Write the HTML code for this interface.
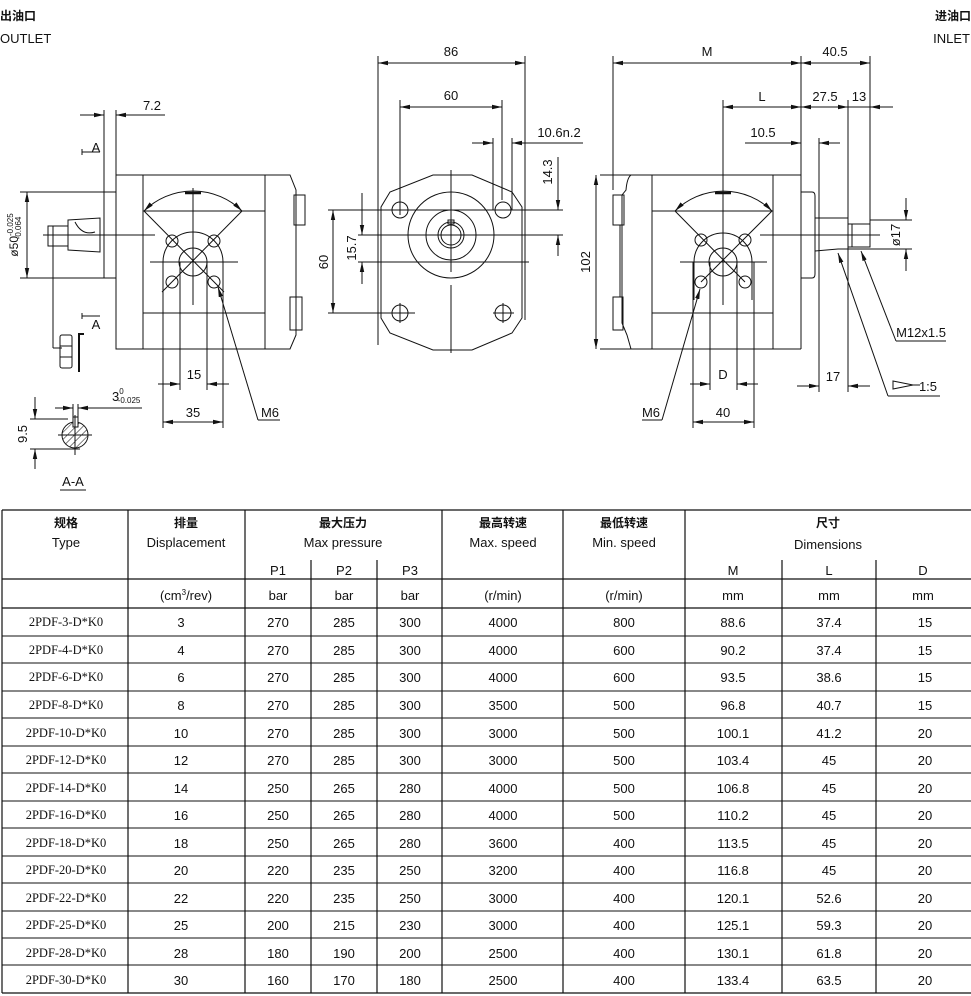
<!DOCTYPE html>
<html><head><meta charset="utf-8"><style>
html,body{margin:0;padding:0;background:#fff;}
svg{display:block;}
text{font-family:"Liberation Sans Narrow","Liberation Sans","Noto Sans CJK SC",sans-serif;fill:#111;}
.c{font-family:"Liberation Sans","Noto Sans CJK SC",sans-serif;font-weight:bold;}
.s{font-family:"Liberation Serif",serif;}
</style></head><body>
<svg width="971" height="996" viewBox="0 0 971 996" xmlns="http://www.w3.org/2000/svg">
<defs>
<marker id="a" viewBox="0 0 10 6" refX="10" refY="3" markerWidth="10" markerHeight="6" markerUnits="userSpaceOnUse" orient="auto-start-reverse"><path d="M0,0.8 L10,3 L0,5.2z" fill="#111"/></marker>
<pattern id="h" width="5" height="5" patternUnits="userSpaceOnUse" patternTransform="rotate(45)"><line x1="0" y1="0" x2="0" y2="5" stroke="#111" stroke-width="1"/></pattern>
</defs>
<g font-size="13">
<text x="0" y="20" class="c" font-size="12">出油口</text>
<text x="0" y="43">OUTLET</text>
<text x="971" y="20" class="c" font-size="12" text-anchor="end">进油口</text>
<text x="970" y="43" text-anchor="end">INLET</text>
</g>

<g stroke="#111" stroke-width="1" fill="none">
<!-- ===== LEFT VIEW ===== -->
<line x1="104" y1="110" x2="104" y2="278"/>
<line x1="116" y1="110" x2="116" y2="175"/>
<line x1="80" y1="115" x2="104" y2="115" marker-end="url(#a)"/>
<line x1="116" y1="115" x2="165" y2="115" marker-start="url(#a)"/>
<rect x="104" y="192" width="12" height="86"/>
<path d="M116,175 H290 L296,190 V335 L290,349 H116 Z"/>
<line x1="143" y1="175" x2="143" y2="349"/>
<line x1="265" y1="175" x2="265" y2="349"/>
<line x1="143" y1="211" x2="265" y2="211"/>
<line x1="143" y1="313" x2="265" y2="313"/>
<rect x="294" y="195" width="11" height="30"/>
<rect x="290" y="297" width="12" height="33"/>
<!-- shaft -->
<path d="M68,220 L100,218 V252 L68,250 Z"/>
<rect x="48" y="226" width="20" height="20"/>
<line x1="53" y1="226" x2="53" y2="246"/>
<path d="M75,222 Q82,236 95,232"/>
<line x1="43" y1="235" x2="155" y2="235"/>
<line x1="53" y1="246" x2="53" y2="348"/>
<line x1="53" y1="348" x2="62" y2="348"/>
<!-- dim phi50 -->
<line x1="20" y1="192" x2="104" y2="192"/>
<line x1="20" y1="278" x2="104" y2="278"/>
<line x1="27" y1="192" x2="27" y2="278" marker-start="url(#a)" marker-end="url(#a)"/>
<!-- A markers -->
<line x1="82" y1="152" x2="100" y2="152"/><line x1="82" y1="149" x2="82" y2="155"/>
<line x1="82" y1="316" x2="100" y2="316"/><line x1="82" y1="313" x2="82" y2="319"/>
<!-- nut -->
<rect x="60" y="335" width="12" height="33" rx="2"/>
<line x1="60" y1="346" x2="72" y2="346"/><line x1="60" y1="357" x2="72" y2="357"/>
<path d="M79,372 V334 H84" stroke-width="2"/>
<!-- port -->
<line x1="193" y1="188" x2="193" y2="305"/>
<line x1="150" y1="262" x2="238" y2="262"/>
<path d="M144,211 A70,70 0 0 1 242,211" marker-start="url(#a)" marker-end="url(#a)"/>
<line x1="144" y1="211" x2="224" y2="292"/>
<line x1="242" y1="211" x2="162" y2="292"/>
<line x1="185" y1="193" x2="201" y2="193" stroke-width="2.5"/>
<circle cx="193" cy="262" r="14"/>
<path d="M163,262 A30,30 0 0 1 223,262 V295 M163,262 V295"/>
<circle cx="172" cy="241" r="6"/><circle cx="214" cy="241" r="6"/>
<circle cx="172" cy="282" r="6"/><circle cx="214" cy="282" r="6"/>
<line x1="163" y1="262" x2="163" y2="428"/>
<line x1="223" y1="262" x2="223" y2="428"/>
<line x1="180" y1="262" x2="180" y2="390"/>
<line x1="207" y1="262" x2="207" y2="390"/>
<line x1="158" y1="384" x2="180" y2="384" marker-end="url(#a)"/>
<line x1="207" y1="384" x2="229" y2="384" marker-start="url(#a)"/>
<line x1="163" y1="422" x2="223" y2="422" marker-start="url(#a)" marker-end="url(#a)"/>
<line x1="258" y1="420" x2="218" y2="287" marker-end="url(#a)"/>
<line x1="258" y1="420" x2="280" y2="420"/>
<!-- A-A section -->
<circle cx="75" cy="435" r="13" fill="url(#h)"/>
<rect x="73" y="417" width="5" height="10" fill="#fff"/>
<line x1="58" y1="435" x2="92" y2="435"/>
<line x1="75" y1="415" x2="75" y2="455"/>
<line x1="55" y1="408" x2="73" y2="408" marker-end="url(#a)"/>
<line x1="78" y1="408" x2="142" y2="408" marker-start="url(#a)"/>
<line x1="73" y1="404" x2="73" y2="418"/><line x1="78" y1="404" x2="78" y2="418"/>
<line x1="30" y1="419" x2="68" y2="419"/>
<line x1="30" y1="449" x2="80" y2="449"/>
<line x1="35" y1="397" x2="35" y2="419" marker-end="url(#a)"/>
<line x1="35" y1="449" x2="35" y2="469" marker-start="url(#a)"/>
<line x1="60" y1="490" x2="86" y2="490"/>

<!-- ===== MIDDLE VIEW ===== -->
<line x1="378" y1="56" x2="378" y2="345"/>
<line x1="525" y1="56" x2="525" y2="320"/>
<line x1="378" y1="63" x2="525" y2="63" marker-start="url(#a)" marker-end="url(#a)"/>
<line x1="400" y1="100" x2="400" y2="215"/>
<line x1="502" y1="100" x2="502" y2="200"/>
<line x1="400" y1="107" x2="502" y2="107" marker-start="url(#a)" marker-end="url(#a)"/>
<line x1="493" y1="138" x2="493" y2="210"/>
<line x1="512" y1="138" x2="512" y2="210"/>
<line x1="472" y1="143" x2="493" y2="143" marker-end="url(#a)"/>
<line x1="512" y1="143" x2="583" y2="143" marker-start="url(#a)"/>
<path d="M433,175 H472 L512,192 L522,207 V318 L512,333 L472,350 H433 L390,333 L381,318 V207 L390,192 Z"/>
<circle cx="400" cy="210" r="8"/><circle cx="503" cy="210" r="8"/>
<circle cx="400" cy="313" r="8"/><circle cx="503" cy="313" r="8"/>
<line x1="390" y1="313" x2="415" y2="313"/><line x1="493" y1="313" x2="514" y2="313"/>
<line x1="400" y1="303" x2="400" y2="323"/><line x1="503" y1="303" x2="503" y2="323"/>
<circle cx="451" cy="235" r="43"/>
<circle cx="451" cy="235" r="25"/>
<circle cx="451" cy="235" r="13"/>
<circle cx="451" cy="235" r="10"/>
<rect x="448" y="220" width="6" height="4"/>
<line x1="451" y1="170" x2="451" y2="272"/>
<line x1="451" y1="285" x2="451" y2="353"/>
<line x1="328" y1="210" x2="563" y2="210"/>
<line x1="358" y1="235" x2="563" y2="235"/>
<line x1="358" y1="262" x2="529" y2="262"/>
<line x1="328" y1="313" x2="390" y2="313"/>
<line x1="333" y1="210" x2="333" y2="313" marker-start="url(#a)" marker-end="url(#a)"/>
<line x1="362" y1="193" x2="362" y2="235" marker-end="url(#a)"/>
<line x1="362" y1="262" x2="362" y2="284" marker-start="url(#a)"/>
<line x1="558" y1="157" x2="558" y2="210" marker-end="url(#a)"/>
<line x1="558" y1="235" x2="558" y2="256" marker-start="url(#a)"/>

<!-- ===== RIGHT VIEW ===== -->
<line x1="613" y1="56" x2="613" y2="190"/>
<line x1="801" y1="56" x2="801" y2="175"/>
<line x1="870" y1="56" x2="870" y2="224"/>
<line x1="613" y1="63" x2="801" y2="63" marker-start="url(#a)" marker-end="url(#a)"/>
<line x1="801" y1="63" x2="870" y2="63" marker-start="url(#a)" marker-end="url(#a)"/>
<line x1="723" y1="100" x2="723" y2="305"/>
<line x1="848" y1="100" x2="848" y2="224"/>
<line x1="723" y1="107" x2="801" y2="107" marker-start="url(#a)" marker-end="url(#a)"/>
<line x1="801" y1="107" x2="848" y2="107" marker-start="url(#a)" marker-end="url(#a)"/>
<line x1="848" y1="107" x2="870" y2="107"/>
<line x1="870" y1="107" x2="893" y2="107" marker-start="url(#a)"/>
<line x1="745" y1="143" x2="801" y2="143" marker-end="url(#a)"/>
<line x1="819" y1="143" x2="840" y2="143" marker-start="url(#a)"/>
<line x1="819" y1="138" x2="819" y2="392"/>
<line x1="848" y1="249" x2="848" y2="392"/>
<path d="M613,175 H631 Q627,178 626,190 L622,195 V323 L627,335 L631,349 H613"/>
<rect x="613" y="195" width="11" height="30"/>
<rect x="613" y="297" width="10" height="33"/>
<line x1="620" y1="225" x2="620" y2="297"/>
<line x1="600" y1="175" x2="801" y2="175"/>
<line x1="600" y1="349" x2="801" y2="349"/>
<line x1="652" y1="175" x2="652" y2="349"/>
<line x1="801" y1="175" x2="801" y2="349"/>
<line x1="773" y1="175" x2="773" y2="349"/>
<line x1="652" y1="211" x2="773" y2="211"/>
<line x1="652" y1="313" x2="773" y2="313"/>
<line x1="596" y1="175" x2="596" y2="349" marker-start="url(#a)" marker-end="url(#a)"/>
<path d="M801,192 H812 Q815,192 815,196 V274 Q815,278 812,278 H801"/>
<path d="M815,218 H848 V249 L838,249 L815,251"/>
<rect x="848" y="224" width="22" height="23"/>
<line x1="852" y1="224" x2="852" y2="247"/>
<line x1="760" y1="235" x2="880" y2="235"/>
<line x1="870" y1="220" x2="912" y2="220"/>
<line x1="848" y1="249" x2="912" y2="249"/>
<line x1="906" y1="198" x2="906" y2="220" marker-end="url(#a)"/>
<line x1="906" y1="249" x2="906" y2="271" marker-start="url(#a)"/>
<!-- port right -->
<line x1="723" y1="186" x2="723" y2="305"/>
<line x1="680" y1="262" x2="767" y2="262"/>
<path d="M675,211 A69,69 0 0 1 772,211" marker-start="url(#a)" marker-end="url(#a)"/>
<line x1="675" y1="211" x2="745" y2="282"/>
<line x1="772" y1="211" x2="701" y2="282"/>
<line x1="715" y1="193" x2="731" y2="193" stroke-width="2.5"/>
<circle cx="723" cy="262" r="14"/>
<path d="M694,262 A29,29 0 0 1 752,262 V300 M694,262 V300"/>
<circle cx="701" cy="240" r="6"/><circle cx="745" cy="240" r="6"/>
<circle cx="701" cy="282" r="6"/><circle cx="745" cy="282" r="6"/>
<line x1="693" y1="262" x2="693" y2="428"/>
<line x1="754" y1="262" x2="754" y2="428"/>
<line x1="710" y1="262" x2="710" y2="390"/>
<line x1="737" y1="262" x2="737" y2="390"/>
<line x1="690" y1="384" x2="710" y2="384" marker-end="url(#a)"/>
<line x1="737" y1="384" x2="758" y2="384" marker-start="url(#a)"/>
<line x1="693" y1="422" x2="754" y2="422" marker-start="url(#a)" marker-end="url(#a)"/>
<line x1="662" y1="420" x2="700" y2="289" marker-end="url(#a)"/>
<line x1="642" y1="420" x2="662" y2="420"/>
<line x1="797" y1="386" x2="819" y2="386" marker-end="url(#a)"/>
<line x1="848" y1="386" x2="870" y2="386" marker-start="url(#a)"/>
<line x1="896" y1="341" x2="861" y2="251" marker-end="url(#a)"/>
<line x1="896" y1="341" x2="946" y2="341"/>
<line x1="888" y1="396" x2="838" y2="253" marker-end="url(#a)"/>
<line x1="888" y1="396" x2="940" y2="396"/>
<path d="M893,381 L913,385 L893,389 Z M913,385 H920"/>
</g>

<g font-size="13" text-anchor="middle">
<text x="152" y="110">7.2</text>
<text x="96" y="152">A</text>
<text x="96" y="329">A</text>
<text transform="translate(18,235) rotate(-90)" font-size="12">ø50<tspan font-size="8" dy="-5">-0.025</tspan><tspan font-size="8" dx="-26" dy="8">-0.064</tspan></text>
<text x="194" y="379">15</text>
<text x="193" y="417">35</text>
<text x="270" y="417">M6</text>
<text x="112" y="401" text-anchor="start">3<tspan font-size="8" dy="-7" dx="0">0</tspan><tspan font-size="8" dx="-6" dy="9">-0.025</tspan></text>
<text transform="translate(27,434) rotate(-90)">9.5</text>
<text x="73" y="486">A-A</text>
<text x="451" y="56">86</text>
<text x="451" y="100">60</text>
<text x="559" y="137">10.6n.2</text>
<text transform="translate(552,172) rotate(-90)">14.3</text>
<text transform="translate(328,262) rotate(-90)">60</text>
<text transform="translate(356,248) rotate(-90)">15.7</text>
<text transform="translate(590,262) rotate(-90)">102</text>
<text x="707" y="56">M</text>
<text x="835" y="56">40.5</text>
<text x="762" y="101">L</text>
<text x="825" y="101">27.5</text>
<text x="859" y="101">13</text>
<text x="763" y="137">10.5</text>
<text transform="translate(900,235) rotate(-90)">ø17</text>
<text x="723" y="379">D</text>
<text x="723" y="417">40</text>
<text x="651" y="417">M6</text>
<text x="833" y="381">17</text>
<text x="921" y="337">M12x1.5</text>
<text x="928" y="391">1:5</text>
</g>

<!-- ===== TABLE ===== -->
<g stroke="#111" stroke-width="1.2" fill="none">
<line x1="2" y1="510" x2="971" y2="510"/>
<line x1="2" y1="579" x2="971" y2="579"/>
<line x1="2" y1="608" x2="971" y2="608"/>
<line x1="2" y1="993" x2="971" y2="993"/>
<line x1="2" y1="510" x2="2" y2="993"/>
<line x1="128" y1="510" x2="128" y2="993"/>
<line x1="245" y1="510" x2="245" y2="993"/>
<line x1="311" y1="560" x2="311" y2="993"/>
<line x1="377" y1="560" x2="377" y2="993"/>
<line x1="442" y1="510" x2="442" y2="993"/>
<line x1="563" y1="510" x2="563" y2="993"/>
<line x1="685" y1="510" x2="685" y2="993"/>
<line x1="782" y1="560" x2="782" y2="993"/>
<line x1="876" y1="560" x2="876" y2="993"/>
</g>
<g stroke="#111" stroke-width="1">
<line x1="2" y1="636" x2="971" y2="636"/><line x1="2" y1="663" x2="971" y2="663"/>
<line x1="2" y1="691" x2="971" y2="691"/><line x1="2" y1="718" x2="971" y2="718"/>
<line x1="2" y1="746" x2="971" y2="746"/><line x1="2" y1="773" x2="971" y2="773"/>
<line x1="2" y1="801" x2="971" y2="801"/><line x1="2" y1="828" x2="971" y2="828"/>
<line x1="2" y1="856" x2="971" y2="856"/><line x1="2" y1="883" x2="971" y2="883"/>
<line x1="2" y1="911" x2="971" y2="911"/><line x1="2" y1="938" x2="971" y2="938"/>
<line x1="2" y1="965" x2="971" y2="965"/>
</g>
<g font-size="13" text-anchor="middle">
<text class="c" font-size="12" x="66" y="527">规格</text><text x="66" y="547">Type</text>
<text class="c" font-size="12" x="186" y="527">排量</text><text x="186" y="547">Displacement</text>
<text class="c" font-size="12" x="343" y="527">最大压力</text><text x="343" y="547">Max pressure</text>
<text class="c" font-size="12" x="503" y="527">最高转速</text><text x="503" y="547">Max. speed</text>
<text class="c" font-size="12" x="624" y="527">最低转速</text><text x="624" y="547">Min. speed</text>
<text class="c" font-size="12" x="828" y="527">尺寸</text><text x="828" y="549">Dimensions</text>
<text x="278" y="575">P1</text><text x="344" y="575">P2</text><text x="410" y="575">P3</text>
<text x="733" y="575">M</text><text x="829" y="575">L</text><text x="923" y="575">D</text>
<text x="186" y="600">(cm<tspan font-size="8" dy="-5">3</tspan><tspan dy="5">/rev)</tspan></text>
<text x="278" y="600">bar</text><text x="344" y="600">bar</text><text x="410" y="600">bar</text>
<text x="503" y="600">(r/min)</text><text x="624" y="600">(r/min)</text>
<text x="733" y="600">mm</text><text x="829" y="600">mm</text><text x="923" y="600">mm</text>
</g>
<g font-size="13" text-anchor="middle">
<g class="s" font-size="12.5">
<text class="s" x="66" y="626">2PDF-3-D*K0</text>
<text class="s" x="66" y="654">2PDF-4-D*K0</text>
<text class="s" x="66" y="681">2PDF-6-D*K0</text>
<text class="s" x="66" y="709">2PDF-8-D*K0</text>
<text class="s" x="66" y="737">2PDF-10-D*K0</text>
<text class="s" x="66" y="764">2PDF-12-D*K0</text>
<text class="s" x="66" y="792">2PDF-14-D*K0</text>
<text class="s" x="66" y="819">2PDF-16-D*K0</text>
<text class="s" x="66" y="847">2PDF-18-D*K0</text>
<text class="s" x="66" y="874">2PDF-20-D*K0</text>
<text class="s" x="66" y="902">2PDF-22-D*K0</text>
<text class="s" x="66" y="929">2PDF-25-D*K0</text>
<text class="s" x="66" y="957">2PDF-28-D*K0</text>
<text class="s" x="66" y="984">2PDF-30-D*K0</text>
</g>
<g>
<text x="181" y="627">3</text><text x="278" y="627">270</text><text x="344" y="627">285</text><text x="410" y="627">300</text><text x="503" y="627">4000</text><text x="624" y="627">800</text><text x="733" y="627">88.6</text><text x="829" y="627">37.4</text><text x="925" y="627">15</text>
<text x="181" y="655">4</text><text x="278" y="655">270</text><text x="344" y="655">285</text><text x="410" y="655">300</text><text x="503" y="655">4000</text><text x="624" y="655">600</text><text x="733" y="655">90.2</text><text x="829" y="655">37.4</text><text x="925" y="655">15</text>
<text x="181" y="682">6</text><text x="278" y="682">270</text><text x="344" y="682">285</text><text x="410" y="682">300</text><text x="503" y="682">4000</text><text x="624" y="682">600</text><text x="733" y="682">93.5</text><text x="829" y="682">38.6</text><text x="925" y="682">15</text>
<text x="181" y="710">8</text><text x="278" y="710">270</text><text x="344" y="710">285</text><text x="410" y="710">300</text><text x="503" y="710">3500</text><text x="624" y="710">500</text><text x="733" y="710">96.8</text><text x="829" y="710">40.7</text><text x="925" y="710">15</text>
<text x="181" y="738">10</text><text x="278" y="738">270</text><text x="344" y="738">285</text><text x="410" y="738">300</text><text x="503" y="738">3000</text><text x="624" y="738">500</text><text x="733" y="738">100.1</text><text x="829" y="738">41.2</text><text x="925" y="738">20</text>
<text x="181" y="765">12</text><text x="278" y="765">270</text><text x="344" y="765">285</text><text x="410" y="765">300</text><text x="503" y="765">3000</text><text x="624" y="765">500</text><text x="733" y="765">103.4</text><text x="829" y="765">45</text><text x="925" y="765">20</text>
<text x="181" y="793">14</text><text x="278" y="793">250</text><text x="344" y="793">265</text><text x="410" y="793">280</text><text x="503" y="793">4000</text><text x="624" y="793">500</text><text x="733" y="793">106.8</text><text x="829" y="793">45</text><text x="925" y="793">20</text>
<text x="181" y="820">16</text><text x="278" y="820">250</text><text x="344" y="820">265</text><text x="410" y="820">280</text><text x="503" y="820">4000</text><text x="624" y="820">500</text><text x="733" y="820">110.2</text><text x="829" y="820">45</text><text x="925" y="820">20</text>
<text x="181" y="848">18</text><text x="278" y="848">250</text><text x="344" y="848">265</text><text x="410" y="848">280</text><text x="503" y="848">3600</text><text x="624" y="848">400</text><text x="733" y="848">113.5</text><text x="829" y="848">45</text><text x="925" y="848">20</text>
<text x="181" y="875">20</text><text x="278" y="875">220</text><text x="344" y="875">235</text><text x="410" y="875">250</text><text x="503" y="875">3200</text><text x="624" y="875">400</text><text x="733" y="875">116.8</text><text x="829" y="875">45</text><text x="925" y="875">20</text>
<text x="181" y="903">22</text><text x="278" y="903">220</text><text x="344" y="903">235</text><text x="410" y="903">250</text><text x="503" y="903">3000</text><text x="624" y="903">400</text><text x="733" y="903">120.1</text><text x="829" y="903">52.6</text><text x="925" y="903">20</text>
<text x="181" y="930">25</text><text x="278" y="930">200</text><text x="344" y="930">215</text><text x="410" y="930">230</text><text x="503" y="930">3000</text><text x="624" y="930">400</text><text x="733" y="930">125.1</text><text x="829" y="930">59.3</text><text x="925" y="930">20</text>
<text x="181" y="958">28</text><text x="278" y="958">180</text><text x="344" y="958">190</text><text x="410" y="958">200</text><text x="503" y="958">2500</text><text x="624" y="958">400</text><text x="733" y="958">130.1</text><text x="829" y="958">61.8</text><text x="925" y="958">20</text>
<text x="181" y="985">30</text><text x="278" y="985">160</text><text x="344" y="985">170</text><text x="410" y="985">180</text><text x="503" y="985">2500</text><text x="624" y="985">400</text><text x="733" y="985">133.4</text><text x="829" y="985">63.5</text><text x="925" y="985">20</text>
</g>
</g>
</svg>
</body></html>
